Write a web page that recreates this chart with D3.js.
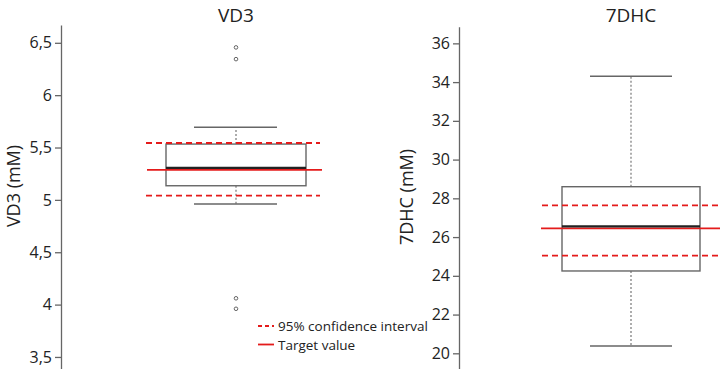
<!DOCTYPE html>
<html>
<head>
<meta charset="utf-8">
<script src="https://cdn.jsdelivr.net/npm/d3@7"></script>
<style>
  body { margin: 0; background: #fff; }
  text { font-family: "Open Sans", sans-serif; fill: #222; }
</style>
</head>
<body>
<script>
// panel data
const panels = ["VD3", "7DHC"];
const axisLabels = ["VD3 (mM)", "7DHC (mM)"];
const yDomains = [[3.385, 6.67], [19.19, 36.86]];
const tickValues = [[3.5, 4, 4.5, 5, 5.5, 6, 6.5], [20, 22, 24, 26, 28, 30, 32, 34, 36]];
const tickLabels = [["3,5", "4", "4,5", "5", "5,5", "6", "6,5"], ["20", "22", "24", "26", "28", "30", "32", "34", "36"]];
// [lower whisker, q1, median, q3, upper whisker]
const boxStats = [[4.96, 5.135, 5.30, 5.533, 5.693], [20.38, 24.25, 26.52, 28.60, 34.30]];
const outliers = [[6.456, 6.344, 4.06, 3.96], []];
const ciLow = [5.04, 25.04];
const ciHigh = [5.543, 27.64];
const targets = [5.287, 26.45];
const legendItems = ["95% confidence interval", "Target value"];

const W = 720, H = 369;
const svg = d3.select("body").append("svg").attr("width", W).attr("height", H);

const layout = [
  {axisX: 61, boxL: 166, boxR: 306, capL: 194, capR: 277, ciL: 146, ciR: 320, tgL: 147, tgR: 322, labX: 14, labY: 186},
  {axisX: 459, boxL: 562, boxR: 700, capL: 590, capR: 672, ciL: 542, ciR: 720, tgL: 541, tgR: 720, labX: 407, labY: 197}
];

panels.forEach((name, i) => {
  const L = layout[i];
  const y = d3.scaleLinear().domain(yDomains[i]).range([H, i === 0 ? 25 : 26.7]);
  const g = svg.append("g");
  const cx = (L.boxL + L.boxR) / 2;
  const s = boxStats[i];

  // axis
  const ax = g.append("g").attr("transform", `translate(${L.axisX},0)`)
    .call(d3.axisLeft(y).tickValues(tickValues[i]).tickSize(6).tickSizeOuter(0)
      .tickFormat((d, k) => tickLabels[i][k]));
  ax.select(".domain").attr("stroke", "#666").attr("stroke-width", 1.3);
  ax.selectAll(".tick line").attr("stroke", "#666").attr("stroke-width", 1.3);
  ax.selectAll(".tick text").attr("font-size", 16).attr("font-family", "Open Sans, sans-serif")
    .attr("fill", "#222").attr("x", -9);

  // title and y label
  g.append("text").attr("x", cx).attr("y", 22).attr("text-anchor", "middle")
    .attr("font-size", 19).text(name);
  g.append("text").attr("transform", `translate(${L.labX + 6},${L.labY}) rotate(-90)`)
    .attr("text-anchor", "middle").attr("font-size", 18).text(axisLabels[i]);

  // whiskers
  g.append("line").attr("x1", cx).attr("x2", cx).attr("y1", y(s[3])).attr("y2", y(s[4]))
    .attr("stroke", "#777").attr("stroke-width", 1.2).attr("stroke-dasharray", "2,2");
  g.append("line").attr("x1", cx).attr("x2", cx).attr("y1", y(s[1])).attr("y2", y(s[0]))
    .attr("stroke", "#777").attr("stroke-width", 1.2).attr("stroke-dasharray", "2,2");
  [s[0], s[4]].forEach(v => {
    g.append("line").attr("x1", L.capL).attr("x2", L.capR).attr("y1", y(v)).attr("y2", y(v))
      .attr("stroke", "#666").attr("stroke-width", 1.4);
  });

  // box
  g.append("rect").attr("x", L.boxL).attr("y", y(s[3])).attr("width", L.boxR - L.boxL)
    .attr("height", y(s[1]) - y(s[3])).attr("fill", "none").attr("stroke", "#666").attr("stroke-width", 1.4);

  // outliers
  g.selectAll("circle.out").data(outliers[i]).enter().append("circle")
    .attr("cx", cx).attr("cy", d => y(d)).attr("r", 1.8)
    .attr("fill", "none").attr("stroke", "#666").attr("stroke-width", 1);

  // CI and target
  [ciLow[i], ciHigh[i]].forEach(v => {
    g.append("line").attr("x1", L.ciL).attr("x2", L.ciR).attr("y1", y(v)).attr("y2", y(v))
      .attr("stroke", "#e41b1b").attr("stroke-width", 1.8).attr("stroke-dasharray", "6,4");
  });
  g.append("line").attr("x1", L.tgL).attr("x2", L.tgR).attr("y1", y(targets[i])).attr("y2", y(targets[i]))
    .attr("stroke", "#e41b1b").attr("stroke-width", 1.6);

  // median on top
  g.append("line").attr("x1", L.boxL).attr("x2", L.boxR).attr("y1", y(s[2]) - 0.6).attr("y2", y(s[2]) - 0.6)
    .attr("stroke", "#222").attr("stroke-width", 2.2);
});

// legend
const lg = svg.append("g");
legendItems.forEach((t, k) => {
  const ly = 326 + k * 18.5;
  lg.append("line").attr("x1", 258).attr("x2", 274).attr("y1", ly).attr("y2", ly)
    .attr("stroke", "#e41b1b").attr("stroke-width", 1.8)
    .attr("stroke-dasharray", k === 0 ? "4,3" : null);
  lg.append("text").attr("x", 278).attr("y", ly + 5).attr("font-size", 13.5).text(t);
});
</script>
</body>
</html>
